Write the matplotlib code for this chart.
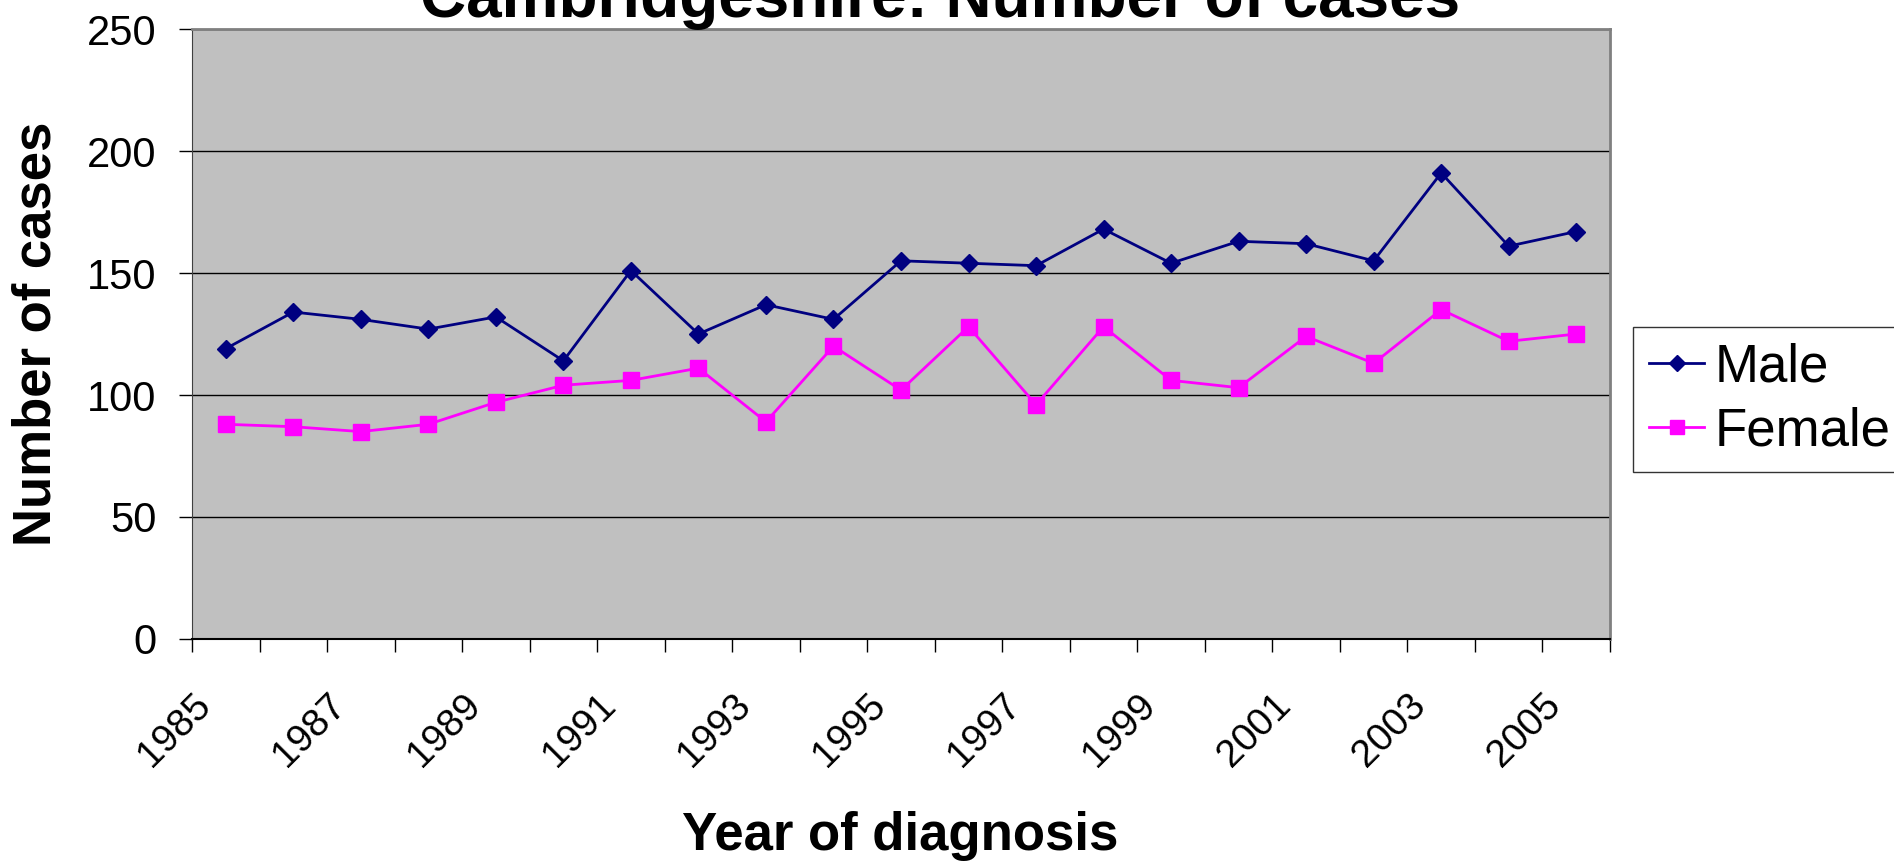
import numpy as np
import matplotlib
matplotlib.use("Agg")
import matplotlib.pyplot as plt
from matplotlib.transforms import ScaledTranslation

plt.rcParams['font.family'] = ['Liberation Sans', 'DejaVu Sans']

# data
years = list(range(1985, 2006))
male = [119, 134, 131, 127, 132, 114, 151, 125, 137, 131, 155,
        154, 153, 168, 154, 163, 162, 155, 191, 161, 167]
female = [88, 87, 85, 88, 97, 104, 106, 111, 89, 120, 102,
          128, 96, 128, 106, 103, 124, 113, 135, 122, 125]
y_ticks = [0, 50, 100, 150, 200, 250]

W, H = 1894, 863
fig = plt.figure(figsize=(W / 100, H / 100), dpi=100)
ax = fig.add_axes([192 / W, 1 - 639 / H, (1610 - 192) / W, (639 - 29) / H])
ax.set_facecolor('#C0C0C0')

x = np.arange(len(years))
ax.plot(x, male, color='#000080', marker='D', markersize=9.5, linewidth=2, label='Male')
ax.plot(x, female, color='#FF00FF', marker='s', markersize=11, linewidth=2, label='Female')

ax.set_xlim(-0.5, len(years) - 0.5)
ax.set_ylim(0, 250)
ax.set_yticks(y_ticks)
ax.yaxis.grid(True, color='black', linewidth=1)
ax.set_axisbelow(True)
ax.tick_params(axis='y', labelsize=30, length=9.4, width=1, pad=16)

# category boundaries get tick marks, labels every other year
ax.set_xticks(np.arange(-0.5, len(years), 1.0), minor=True)
ax.set_xticks(x[::2])
ax.set_xticklabels([str(y) for y in years[::2]], rotation=45, ha='right',
                   va='center', rotation_mode='anchor', fontsize=28)
ax.tick_params(axis='x', which='major', length=0, pad=44)
ax.tick_params(axis='x', which='minor', length=9.4, width=1)
shift = ScaledTranslation(-21 / 100, 0, fig.dpi_scale_trans)
for lab in ax.get_xticklabels():
    lab.set_transform(lab.get_transform() + shift)

for s in ['top', 'right']:
    ax.spines[s].set_color('#808080')
    ax.spines[s].set_linewidth(2)
ax.spines['left'].set_color('#404040')
ax.spines['bottom'].set_color('black')
ax.spines['bottom'].set_linewidth(1.5)

fig.text(37 / W, 1 - 334 / H, 'Number of cases', fontsize=38, fontweight='bold',
         rotation=90, ha='center', va='center')
fig.text(900 / W, 1 - 850 / H, 'Year of diagnosis', fontsize=38, fontweight='bold',
         ha='center', va='baseline')
fig.text(940 / W, 1 - 17 / H, 'Cambridgeshire: Number of cases', fontsize=46,
         fontweight='bold', ha='center', va='baseline')

leg = ax.legend(loc='upper left', bbox_to_anchor=(1633 / W, 1 - 327 / H),
                bbox_transform=fig.transFigure, fontsize=38, frameon=True,
                fancybox=False, edgecolor='black', borderpad=0.3, borderaxespad=0,
                handlelength=1.05, handletextpad=0.2, labelspacing=0.25,
                markerscale=0.9)
leg.get_frame().set_linewidth(1)

fig.savefig('out.png', dpi=100)
